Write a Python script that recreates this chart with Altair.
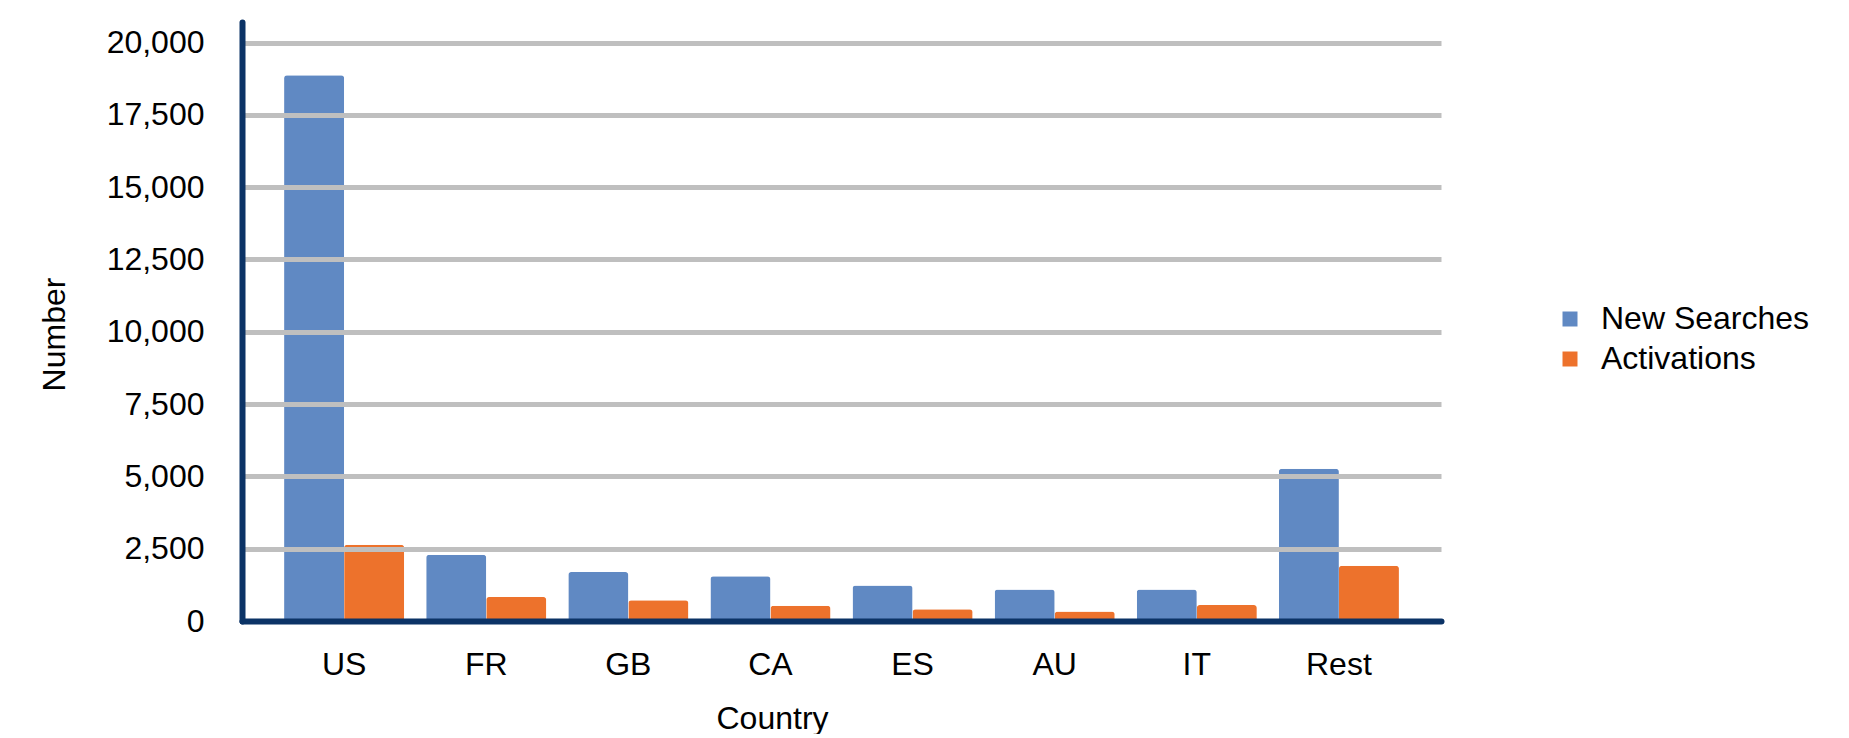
import altair as alt
import pandas as pd

countries = ["US", "FR", "GB", "CA", "ES", "AU", "IT", "Rest"]
new_searches = [18870, 2290, 1690, 1550, 1230, 1090, 1090, 5260]
activations = [2640, 830, 720, 530, 410, 330, 550, 1910]
series = ["New Searches", "Activations"]
colors = ["#6089c3", "#ed722c"]
y_ticks = [0, 2500, 5000, 7500, 10000, 12500, 15000, 17500, 20000]

rows = []
for i, c in enumerate(countries):
    rows.append({"Country": c, "Series": series[0], "Number": new_searches[i]})
    rows.append({"Country": c, "Series": series[1], "Number": activations[i]})
df = pd.DataFrame(rows)

FONT = "Liberation Sans"
NAVY = "#0b3366"
FS = 32

chart = alt.Chart(df).mark_bar(cornerRadiusTopLeft=3, cornerRadiusTopRight=3).encode(
    x=alt.X("Country:N", sort=countries,
            scale=alt.Scale(paddingInner=0.155, paddingOuter=0.296),
            axis=alt.Axis(title="Country", labelAngle=0, labelFontSize=FS, titleFontSize=FS,
                          labelFont=FONT, titleFont=FONT, labelColor="black", titleColor="black",
                          titleFontWeight="normal", domainColor=NAVY, domainWidth=6,
                          domainCap="round", ticks=False, labelPadding=28, grid=False,
                          titleX=530, titleY=107, titleAlign="center", titleBaseline="alphabetic",
                          zindex=1)),
    xOffset=alt.XOffset("Series:N", sort=series, scale=alt.Scale(paddingInner=0, paddingOuter=0)),
    y=alt.Y("Number:Q", scale=alt.Scale(domain=[0, 20710], nice=False),
            axis=alt.Axis(title="Number", values=y_ticks, format=",.0f", labelFontSize=FS,
                          titleFontSize=FS, labelFont=FONT, titleFont=FONT, labelColor="black",
                          titleColor="black", titleFontWeight="normal", domainColor=NAVY,
                          domainWidth=6, domainCap="round", ticks=False, labelPadding=38,
                          gridColor="#bfbfbf", gridWidth=5, titleAngle=270,
                          titleX=-188, titleY=312, titleAlign="center", titleBaseline="middle",
                          zindex=1)),
    color=alt.Color("Series:N", sort=series,
                    scale=alt.Scale(domain=series, range=colors),
                    legend=alt.Legend(title=None, orient="none", legendX=1312, legendY=281,
                                      symbolType="square", symbolSize=225, symbolStrokeWidth=0,
                                      labelFontSize=FS, labelFont=FONT, labelColor="black",
                                      labelOffset=15, rowPadding=8, padding=0, labelLimit=400)),
).properties(
    width=1199, height=599,
    autosize=alt.AutoSizeParams(type="none"),
    padding={"left": 234, "top": 14, "right": 392, "bottom": 113},
).configure_view(stroke=None)

chart.save("out.html", embed_options={"renderer": "svg", "actions": False})
